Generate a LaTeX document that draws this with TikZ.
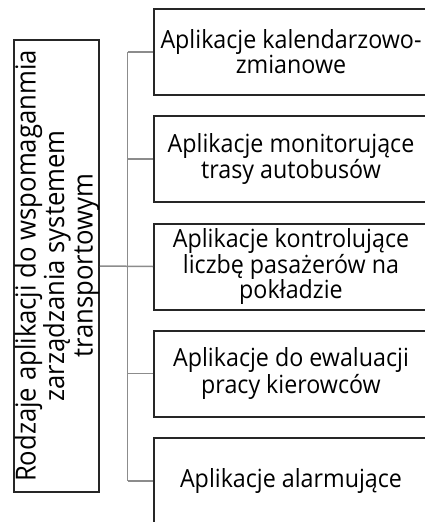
\documentclass[tikz,border=0pt]{standalone}
\usepackage{fontspec}
\setmainfont{Open Sans}[FakeStretch=0.93]
\begin{document}
\begin{tikzpicture}[x=1pt,y=1pt,
  box/.style={draw=black!85, line width=2pt, inner sep=0pt, minimum width=274pt, minimum height=86pt, align=center, font=\fontsize{25}{25}\selectfont},
  link/.style={draw=black!45, line width=1.5pt}]
\useasboundingbox (0,0) rectangle (424,-522);
\node[draw=black!85, line width=2pt, minimum width=85pt, minimum height=452pt, inner sep=0pt] (root) at (56.5,-266) {};
\node[rotate=90, align=center, inner sep=0pt, font=\fontsize{27.6}{28.5}\selectfont] (roottext) at (57,-266) {Rodzaje aplikacji do wspomaganmia\\zarządzania systemem\\transportowym};
\node[box] (b1) at (291,-52) {Aplikacje kalendarzowo-\\zmianowe};
\node[box] (b2) at (291,-159) {Aplikacje monitorujące\\trasy autobusów};
\node[box] (b3) at (291,-266.5) {Aplikacje kontrolujące\\liczbę pasażerów na\\pokładzie};
\node[box] (b4) at (291,-373.5) {Aplikacje do ewaluacji\\pracy kierowców};
\node[box] (b5) at (291,-481) {Aplikacje alarmujące};
\coordinate (t1) at (127.5,-52);
\coordinate (t2) at (127.5,-159);
\coordinate (t4) at (127.5,-373.5);
\coordinate (t5) at (127.5,-481);
\draw[link] (t1) -- (t5);
\draw[link] (t1) -- (b1.west);
\draw[link] (t2) -- (b2.west);
\draw[link] (root.east) -- (b3.west);
\draw[link] (t4) -- (b4.west);
\draw[link] (t5) -- (b5.west);
\end{tikzpicture}
\end{document}
